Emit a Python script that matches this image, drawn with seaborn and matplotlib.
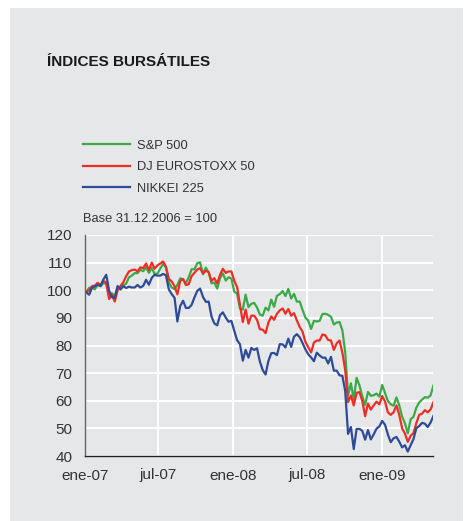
import numpy as np
import pandas as pd
import matplotlib
matplotlib.use("Agg")
import matplotlib.pyplot as plt
from matplotlib.patches import Rectangle
import seaborn as sns

# indices, base 31.12.2006 = 100, weekly values
series_names = ["S&P 500", "DJ EUROSTOXX 50", "NIKKEI 225"]
series_colors = ["#3aaa48", "#ee2d24", "#2e4b98"]

sp500 = [100.0,
         99.4, 100.9, 100.9, 100.3, 102.1, 101.4, 102.6, 102.3, 97.8, 98.9, 97.8, 101.3, 100.2,
         101.8, 102.4, 104.7, 105.3, 106.2, 106.2, 107.4, 106.9, 108.3, 106.3, 108.1, 105.9,
         106.0, 107.9, 109.5, 108.2, 102.9, 101.0, 100.4, 101.9, 104.3, 103.9, 102.5, 104.7,
         107.6, 107.6, 109.8, 110.1, 105.8, 108.2, 106.4, 102.5, 102.8, 100.6, 104.4, 106.1,
         103.5, 104.7, 104.2,
         99.5, 98.8, 93.4, 93.0, 98.4, 93.9, 95.1, 95.4, 93.8, 91.2, 90.8, 93.7, 92.7,
         96.6, 94.0, 98.0, 98.6, 99.7, 97.9, 100.5, 97.0, 98.7, 95.9, 95.9, 92.9, 90.1,
         89.0, 86.0, 88.9, 88.7, 88.9, 91.4, 91.5, 91.1, 90.4, 87.6, 88.3, 88.5, 85.5,
         77.5, 62.0, 66.3, 60.5, 68.3, 65.6, 61.6, 58.5, 63.2, 61.8, 62.0, 62.6, 61.5,
         65.7, 62.8, 59.9, 58.7, 58.2, 61.2, 58.3, 54.3, 51.8, 48.2, 53.3, 54.2, 57.5,
         59.4, 60.4, 61.3, 61.1, 61.9, 65.5]

eurostoxx = [100.0,
             99.5, 100.0, 101.5, 101.7, 102.7, 101.9, 103.4, 102.7, 96.8, 98.3, 95.9, 100.0, 101.5,
             102.9, 105.1, 106.8, 107.3, 107.5, 106.8, 108.3, 108.0, 109.7, 107.3, 110.0, 107.8,
             109.0, 109.7, 110.4, 108.5, 104.1, 103.2, 101.5, 98.5, 103.4, 104.1, 101.9, 102.2,
             105.1, 106.3, 107.5, 108.0, 106.1, 107.0, 106.6, 103.4, 104.4, 102.4, 105.6, 107.8,
             106.3, 106.8, 106.8,
             103.4, 101.2, 94.7, 88.5, 93.0, 87.9, 90.8, 90.8, 89.3, 85.9, 85.7, 84.5, 88.3,
             90.5, 89.3, 91.5, 92.7, 93.4, 91.5, 93.2, 90.8, 91.7, 89.1, 86.7, 85.0, 81.3,
             79.4, 77.5, 81.1, 81.8, 81.8, 84.0, 83.7, 82.0, 81.8, 78.4, 80.8, 81.8, 77.4,
             71.1, 59.5, 61.9, 58.3, 62.9, 63.1, 60.0, 54.4, 59.0, 56.8, 58.3, 59.7, 58.7,
             61.7, 59.7, 55.8, 54.9, 55.8, 58.3, 54.9, 50.0, 48.1, 45.1, 47.3, 48.3, 51.9,
             54.9, 55.3, 56.6, 55.8, 56.8, 59.5]

nikkei = [100.0,
          99.2, 98.4, 100.9, 101.4, 101.9, 101.6, 103.9, 105.6, 99.9, 97.5, 97.2, 101.5, 100.4,
          101.5, 100.8, 101.3, 101.0, 101.0, 101.9, 101.0, 101.6, 103.8, 102.0, 104.5, 105.6,
          105.3, 105.3, 105.9, 105.4, 100.3, 98.6, 97.3, 88.7, 94.3, 96.2, 93.6, 93.6,
          94.7, 97.4, 99.8, 100.6, 97.6, 95.8, 95.9, 90.5, 88.0, 87.3, 91.0, 92.0,
          90.1, 88.6, 88.9,
          85.3, 81.9, 80.5, 74.5, 78.4, 75.6, 79.1, 78.4, 79.0, 74.2, 71.1, 69.5, 74.4,
          77.2, 77.3, 76.5, 80.5, 80.4, 79.3, 82.5, 79.5, 83.2, 84.1, 83.0, 80.9, 78.6,
          76.8, 75.7, 74.3, 77.4, 76.4, 75.6, 75.6, 73.5, 75.9, 70.9, 70.9, 69.2, 69.0,
          63.5, 48.0, 50.5, 42.5, 49.8, 49.8, 49.1, 45.9, 49.4, 46.0, 47.8, 49.9, 50.7,
          52.7, 51.3, 47.8, 45.0, 46.4, 46.9, 45.2, 43.1, 43.9, 41.6, 43.9, 46.1, 50.1,
          50.8, 52.0, 51.7, 50.5, 52.1, 54.5]

dates = pd.date_range("2006-12-29", periods=len(sp500), freq="W-FRI")

tick_dates = ["2007-01-01", "2007-07-01", "2008-01-01", "2008-07-01", "2009-01-01"]
tick_labels = ["ene-07", "jul-07", "ene-08", "jul-08", "ene-09"]
y_ticks = [40, 50, 60, 70, 80, 90, 100, 110, 120]

df = pd.DataFrame({
    "fecha": np.tile(dates.values, 3),
    "indice": np.repeat(series_names, len(dates)),
    "valor": sp500 + eurostoxx + nikkei,
})

plt.rcParams["font.family"] = ["Liberation Sans", "DejaVu Sans"]
panel = "#e6e7e8"
W, H = 465, 521

fig = plt.figure(figsize=(W / 100, H / 100), dpi=100, facecolor="white")
fig.patches.append(Rectangle((10 / W, 0), 453 / W, 513 / H, transform=fig.transFigure,
                             facecolor=panel, edgecolor="none", zorder=-1))

ax = fig.add_axes([84.7 / W, 1 - 456 / H, (433 - 84.7) / W, (456 - 235) / H])
ax.set_facecolor("none")

sns.lineplot(data=df, x="fecha", y="valor", hue="indice", hue_order=series_names,
             palette=series_colors, linewidth=1.6, ax=ax)

sns.move_legend(ax, "upper left", bbox_to_anchor=(83 / W, 1 - 139.5 / H),
                bbox_transform=fig.transFigure, frameon=False, title=None,
                fontsize=9.3, handlelength=3.6, handletextpad=0.6, labelspacing=0.74,
                borderpad=0, borderaxespad=0)
for t in ax.get_legend().get_texts():
    t.set_color("#333333")

ax.set_xlim(pd.Timestamp("2007-01-01"), pd.Timestamp("2009-05-07"))
ax.set_ylim(40, 120)
ax.set_yticks(y_ticks)
ax.set_xticks(pd.to_datetime(tick_dates))
ax.set_xticklabels(tick_labels)
ax.set_xlabel("")
ax.set_ylabel("")
ax.grid(True, color="white", linewidth=1.4)
ax.set_axisbelow(True)
ax.tick_params(length=0, pad=9, labelsize=11, labelcolor="#333333")
for s in ["top", "right"]:
    ax.spines[s].set_visible(False)
ax.spines["left"].set_color("#666666")
ax.spines["left"].set_linewidth(1.0)
ax.spines["bottom"].set_color("#222222")
ax.spines["bottom"].set_linewidth(1.0)

fig.text(47 / W, 1 - 66.5 / H, "ÍNDICES BURSÁTILES", fontsize=11, fontweight="bold",
         color="#1a1a1a", va="baseline")
fig.text(83 / W, 1 - 222.3 / H, "Base 31.12.2006 = 100", fontsize=9.3,
         color="#333333", va="baseline")

fig.savefig("out.png", dpi=100, facecolor="white")
